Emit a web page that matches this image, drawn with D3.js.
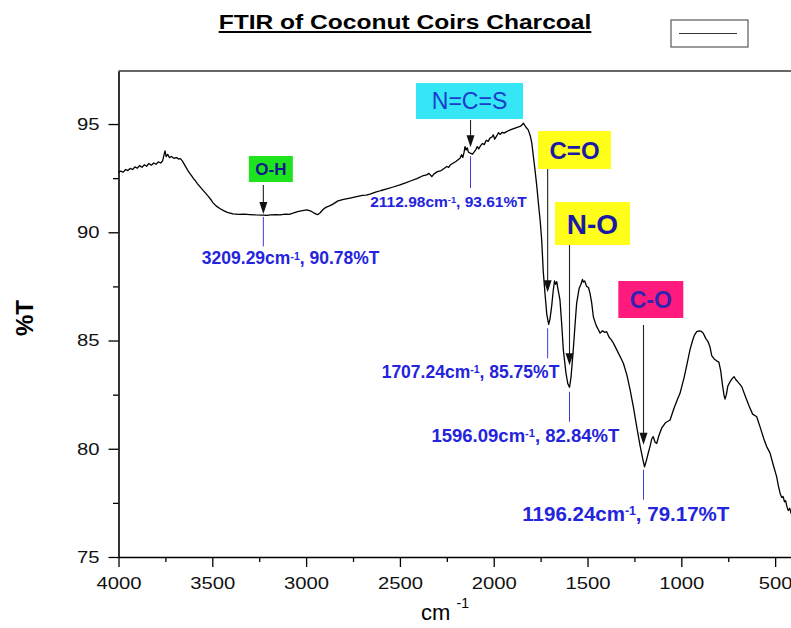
<!DOCTYPE html>
<html>
<head>
<meta charset="UTF-8">
<title>FTIR of Coconut Coirs Charcoal</title>
<style>
    body { margin: 0; background: #fff; }
    svg { font-family: 'Liberation Sans', Arial, sans-serif; display: block; }
    .axis path, .axis line { stroke: #000; }
    .axis path { stroke-width: 1.6; }
    .axis line { stroke-width: 1.3; }
    .axis text { font-size: 17px; fill: #111; }
</style>
</head>
<body>
<script src="https://d3js.org/d3.v7.min.js"></script>
<script>
    /// data

    var wavenumber = [
        4000, 3990, 3975, 3962, 3950, 3938, 3925, 3912, 3900, 3888,
        3875, 3862, 3850, 3838, 3825, 3812, 3800, 3788, 3775, 3765,
        3758, 3752, 3746, 3738, 3728, 3718, 3705, 3690, 3680, 3670,
        3660, 3650, 3640, 3630, 3620, 3610, 3600, 3590, 3580, 3566,
        3550, 3535, 3520, 3505, 3496, 3480, 3460, 3440, 3420, 3390,
        3360, 3330, 3300, 3270, 3230, 3209, 3190, 3160, 3139, 3110,
        3090, 3070, 3045, 3020, 2995, 2975, 2960, 2945, 2937, 2925,
        2910, 2895, 2875, 2857, 2830, 2800, 2766, 2730, 2700, 2680,
        2659, 2630, 2600, 2570, 2540, 2500, 2470, 2440, 2410, 2380,
        2357, 2345, 2330, 2318, 2300, 2280, 2265, 2250, 2240, 2230,
        2215, 2200, 2190, 2180, 2171, 2165, 2158, 2153, 2147, 2141,
        2135, 2126, 2113, 2105, 2095, 2088, 2080, 2070, 2060, 2050,
        2040, 2030, 2020, 2010, 2002, 1995, 1984, 1975, 1965, 1955,
        1945, 1931, 1920, 1905, 1890, 1875, 1860, 1850, 1842, 1835,
        1828, 1816, 1805, 1797, 1790, 1780, 1770, 1762, 1752, 1744,
        1736, 1727, 1717, 1707, 1700, 1691, 1683, 1676, 1670, 1664,
        1658, 1647, 1638, 1629, 1615, 1605, 1596, 1588, 1576, 1566,
        1558, 1545, 1535, 1527, 1522, 1515, 1505, 1495, 1487, 1478,
        1469, 1460, 1451, 1442, 1433, 1420, 1410, 1398, 1385, 1375,
        1362, 1340, 1320, 1309, 1290, 1273, 1255, 1238, 1220, 1205,
        1196, 1185, 1175, 1167, 1158, 1150, 1140, 1131, 1120, 1105,
        1085, 1060, 1040, 1020, 1007, 985, 970, 954, 940, 930,
        918, 905, 893, 883, 870, 858, 847, 838, 825, 810,
        800, 790, 780, 772, 767, 760, 752, 740, 728, 719,
        710, 700, 690, 678, 660, 640, 620, 598, 580, 560,
        545, 527, 510, 492, 483, 474, 465, 458, 450, 444,
        438, 430, 422, 415, 408, 400
    ];

    var transmittance = [
        92.78, 92.82, 92.78, 92.90, 92.85, 92.95, 92.90, 93.02, 92.96, 93.08,
        93.00, 93.12, 93.05, 93.18, 93.10, 93.20, 93.14, 93.25, 93.20, 93.30,
        93.55, 93.76, 93.50, 93.60, 93.45, 93.50, 93.42, 93.45, 93.38, 93.40,
        93.30, 93.15, 93.00, 92.85, 92.72, 92.60, 92.48, 92.38, 92.25, 92.11,
        91.95, 91.80, 91.65, 91.48, 91.36, 91.22, 91.10, 91.00, 90.92, 90.85,
        90.83, 90.84, 90.82, 90.80, 90.79, 90.78, 90.80, 90.82, 90.80, 90.84,
        90.83, 90.88, 90.95, 91.00, 91.03, 90.98, 90.90, 90.84, 90.82, 90.90,
        91.05, 91.15, 91.22, 91.30, 91.45, 91.52, 91.58, 91.65, 91.70, 91.72,
        91.76, 91.85, 91.93, 92.00, 92.08, 92.19, 92.28, 92.38, 92.48, 92.60,
        92.65, 92.72, 92.57, 92.70, 92.80, 92.85, 92.95, 93.04, 93.00, 93.12,
        93.20, 93.28, 93.35, 93.42, 93.58, 93.45, 93.70, 93.96, 93.80, 93.90,
        93.70, 93.66, 93.61, 93.70, 93.82, 93.96, 93.85, 94.00, 94.10, 94.05,
        94.25, 94.20, 94.35, 94.40, 94.50, 94.30, 94.45, 94.60, 94.52, 94.62,
        94.58, 94.65, 94.70, 94.75, 94.80, 94.85, 94.89, 94.95, 95.04, 94.95,
        94.85, 94.73, 94.45, 94.12, 93.60, 92.88, 92.10, 91.35, 90.50, 89.60,
        88.20, 87.20, 86.20, 85.75, 86.00, 86.60, 87.30, 87.75, 87.60, 87.72,
        87.40, 86.88, 85.80, 84.57, 83.50, 83.00, 82.84, 83.30, 84.57, 85.80,
        86.72, 87.40, 87.60, 87.82, 87.70, 87.75, 87.50, 87.45, 87.19, 86.75,
        86.10, 85.85, 85.64, 85.50, 85.34, 85.45, 85.38, 85.41, 85.15, 85.05,
        84.88, 84.50, 84.15, 83.95, 83.40, 82.72, 81.90, 81.02, 80.15, 79.50,
        79.17, 79.50, 79.85, 80.10, 80.45, 80.56, 80.30, 80.25, 80.60, 80.95,
        81.20, 81.33, 81.85, 82.30, 82.56, 83.30, 83.90, 84.57, 85.00, 85.25,
        85.41, 85.45, 85.42, 85.34, 85.10, 84.95, 84.70, 84.30, 84.15, 84.05,
        84.00, 83.60, 82.90, 82.45, 82.30, 82.50, 82.90, 83.10, 83.25, 83.33,
        83.20, 83.10, 83.00, 82.87, 82.45, 82.00, 81.60, 81.48, 81.00, 80.45,
        80.10, 79.80, 79.25, 78.71, 78.30, 77.96, 77.75, 77.80, 77.55, 77.60,
        77.35, 77.15, 77.25, 77.02, 76.90, 76.95
    ];

    // labelled peaks
    var peakWavenumber = [3209.29, 2112.98, 1707.24, 1596.09, 1196.24];
    var peakTransmittance = [90.78, 93.61, 85.75, 82.84, 79.17];
    var peakGroup = ["O-H", "N=C=S", "C=O", "N-O", "C-O"];

    var xTicks = [4000, 3500, 3000, 2500, 2000, 1500, 1000, 500];
    var xMinorTicks = [3750, 3250, 2750, 2250, 1750, 1250, 750];
    var yTicks = [75, 80, 85, 90, 95];
    var yMinorTicks = [77.5, 82.5, 87.5, 92.5];

    /// layout of the annotation boxes (offsets from the peak point)
    var notes = [
        { fill: "#1fe31f", ink: "#10188c", weight: "bold", size: 17, bx0: -18, bx1: 26, by0: 156, by1: 182,
          adx: -3.5, a0: 185, tip: -1.5, l0: 1.5, l1: 31, lx: -65, anchor: "start", ly: 49, lsize: 17.5 },
        { fill: "#34e6f6", ink: "#1b3ccf", weight: "normal", size: 23, bx0: -56.5, bx1: 50.5, by0: 83, by1: 119,
          adx: -2, a0: 120, tip: -7, l0: 2, l1: 34, lx: 54.2, anchor: "end", ly: 52.7, lsize: 15.5 },
        { fill: "#ffff1a", ink: "#1a1aa6", weight: "bold", size: 24, bx0: -10.6, bx1: 62.4, by0: 131, by1: 169,
          adx: -1, a0: 169, tip: -32, l0: 4, l1: 34, lx: 10.7, anchor: "end", ly: 53.6, lsize: 17.5 },
        { fill: "#ffff1a", ink: "#1a1aa6", weight: "bold", size: 28, bx0: -14.5, bx1: 60.5, by0: 202, by1: 245,
          adx: 0, a0: 245, tip: -22, l0: 4.5, l1: 34.5, lx: 49.8, anchor: "end", ly: 54.7, lsize: 18.5 },
        { fill: "#ff1a7d", ink: "#3322b0", weight: "bold", size: 23, bx0: -26.2, bx1: 38.8, by0: 281, by1: 318,
          adx: -1, a0: 325, tip: -22, l0: 3, l1: 33, lx: 84.8, anchor: "end", ly: 54.2, lsize: 20.5 }
    ];

    var width = 791, height = 628;
    var stretchK = 1.19;

    var svg = d3.select("body").append("svg")
        .attr("width", width)
        .attr("height", height);

    var x = d3.scaleLinear().domain([4000, 400]).range([118.5, 793.9]);
    var y = d3.scaleLinear().domain([75, 97.45]).range([557, 71]);

    // widen glyphs like the stretched original
    function stretchText(sel, k) {
        sel.each(function() {
            var w = this.getComputedTextLength();
            d3.select(this).attr("textLength", w * k).attr("lengthAdjust", "spacingAndGlyphs");
        });
    }

    // title + underline
    var title = svg.append("text")
        .attr("x", 405)
        .attr("y", 29)
        .attr("text-anchor", "middle")
        .style("font-size", "21px")
        .style("font-weight", "bold")
        .text("FTIR of Coconut Coirs Charcoal");
    stretchText(title, 1.17);
    var tb = title.node().getBBox();
    svg.append("line")
        .attr("x1", tb.x).attr("x2", tb.x + tb.width)
        .attr("y1", 32).attr("y2", 32)
        .attr("stroke", "#000").attr("stroke-width", 2);

    // empty legend box
    svg.append("rect")
        .attr("x", 671).attr("y", 20).attr("width", 77).attr("height", 27)
        .attr("fill", "none").attr("stroke", "#666").attr("stroke-width", 1.3);
    svg.append("line")
        .attr("x1", 679).attr("x2", 737).attr("y1", 33.5).attr("y2", 33.5)
        .attr("stroke", "#333").attr("stroke-width", 1);

    // top frame
    svg.append("line")
        .attr("x1", x(4000)).attr("x2", width)
        .attr("y1", y.range()[1]).attr("y2", y.range()[1])
        .attr("stroke", "#333").attr("stroke-width", 1.3);

    // axes
    var gx = svg.append("g").attr("class", "axis")
        .attr("transform", "translate(0," + y(75) + ")")
        .call(d3.axisBottom(x).tickValues(xTicks).tickFormat(d3.format("d"))
            .tickSize(10).tickSizeOuter(0).tickPadding(10));
    stretchText(gx.selectAll("text"), stretchK);
    svg.append("g").attr("class", "axis")
        .attr("transform", "translate(0," + y(75) + ")")
        .call(d3.axisBottom(x).tickValues(xMinorTicks).tickFormat("").tickSize(5).tickSizeOuter(0))
        .select(".domain").remove();

    var gy = svg.append("g").attr("class", "axis")
        .attr("transform", "translate(" + x(4000) + ",0)")
        .call(d3.axisLeft(y).tickValues(yTicks).tickSize(10).tickSizeOuter(0).tickPadding(9));
    stretchText(gy.selectAll("text"), stretchK);
    svg.append("g").attr("class", "axis")
        .attr("transform", "translate(" + x(4000) + ",0)")
        .call(d3.axisLeft(y).tickValues(yMinorTicks).tickFormat("").tickSize(5.5).tickSizeOuter(0))
        .select(".domain").remove();

    // axis titles
    svg.append("text")
        .attr("transform", "translate(33,318) rotate(-90)")
        .attr("text-anchor", "middle")
        .style("font-size", "24px")
        .style("font-weight", "bold")
        .text("%T");

    var xt = svg.append("text")
        .attr("x", 445).attr("y", 620)
        .attr("text-anchor", "middle")
        .style("font-size", "22px");
    xt.append("tspan").text("cm ");
    xt.append("tspan").attr("dy", -12).style("font-size", "14px").text("-1");

    // spectrum
    var line = d3.line()
        .x(function(i) { return x(wavenumber[i]); })
        .y(function(i) { return y(transmittance[i]); });

    svg.append("path")
        .datum(d3.range(wavenumber.length))
        .attr("d", line)
        .attr("fill", "none")
        .attr("stroke", "#000")
        .attr("stroke-width", 1.3)
        .attr("stroke-linejoin", "round");

    // peak annotations
    var ann = svg.append("g");
    peakWavenumber.forEach(function(wn, i) {
        var n = notes[i];
        var px = x(wn), py = y(peakTransmittance[i]);
        var ax = px + n.adx;
        var tipY = py + n.tip;

        ann.append("rect")
            .attr("x", px + n.bx0).attr("y", n.by0)
            .attr("width", n.bx1 - n.bx0).attr("height", n.by1 - n.by0)
            .attr("fill", n.fill);
        ann.append("text")
            .attr("x", px + (n.bx0 + n.bx1) / 2)
            .attr("y", (n.by0 + n.by1) / 2)
            .attr("dy", "0.36em")
            .attr("text-anchor", "middle")
            .style("font-size", n.size + "px")
            .style("font-weight", n.weight)
            .attr("fill", n.ink)
            .text(peakGroup[i]);

        // arrow
        ann.append("line")
            .attr("x1", ax).attr("x2", ax)
            .attr("y1", n.a0).attr("y2", tipY - 10)
            .attr("stroke", "#222").attr("stroke-width", 1.1);
        ann.append("path")
            .attr("d", "M" + ax + "," + tipY + "L" + (ax - 4) + "," + (tipY - 12) +
                "L" + (ax + 4) + "," + (tipY - 12) + "Z")
            .attr("fill", "#111");

        // blue leader
        ann.append("line")
            .attr("x1", ax).attr("x2", ax)
            .attr("y1", py + n.l0).attr("y2", py + n.l1)
            .attr("stroke", "#3b3bdc").attr("stroke-width", 1);

        var lab = ann.append("text")
            .attr("x", px + n.lx).attr("y", py + n.ly)
            .attr("text-anchor", n.anchor)
            .style("font-size", n.lsize + "px")
            .style("font-weight", "bold")
            .attr("fill", "#2424dc");
        lab.append("tspan").text(wn.toFixed(2) + "cm");
        lab.append("tspan").attr("dy", "-0.45em").style("font-size", "0.6em").text("-1");
        lab.append("tspan").attr("dy", "0.27em").text(", " + peakTransmittance[i].toFixed(2) + "%T");
    });
</script>
</body>
</html>
